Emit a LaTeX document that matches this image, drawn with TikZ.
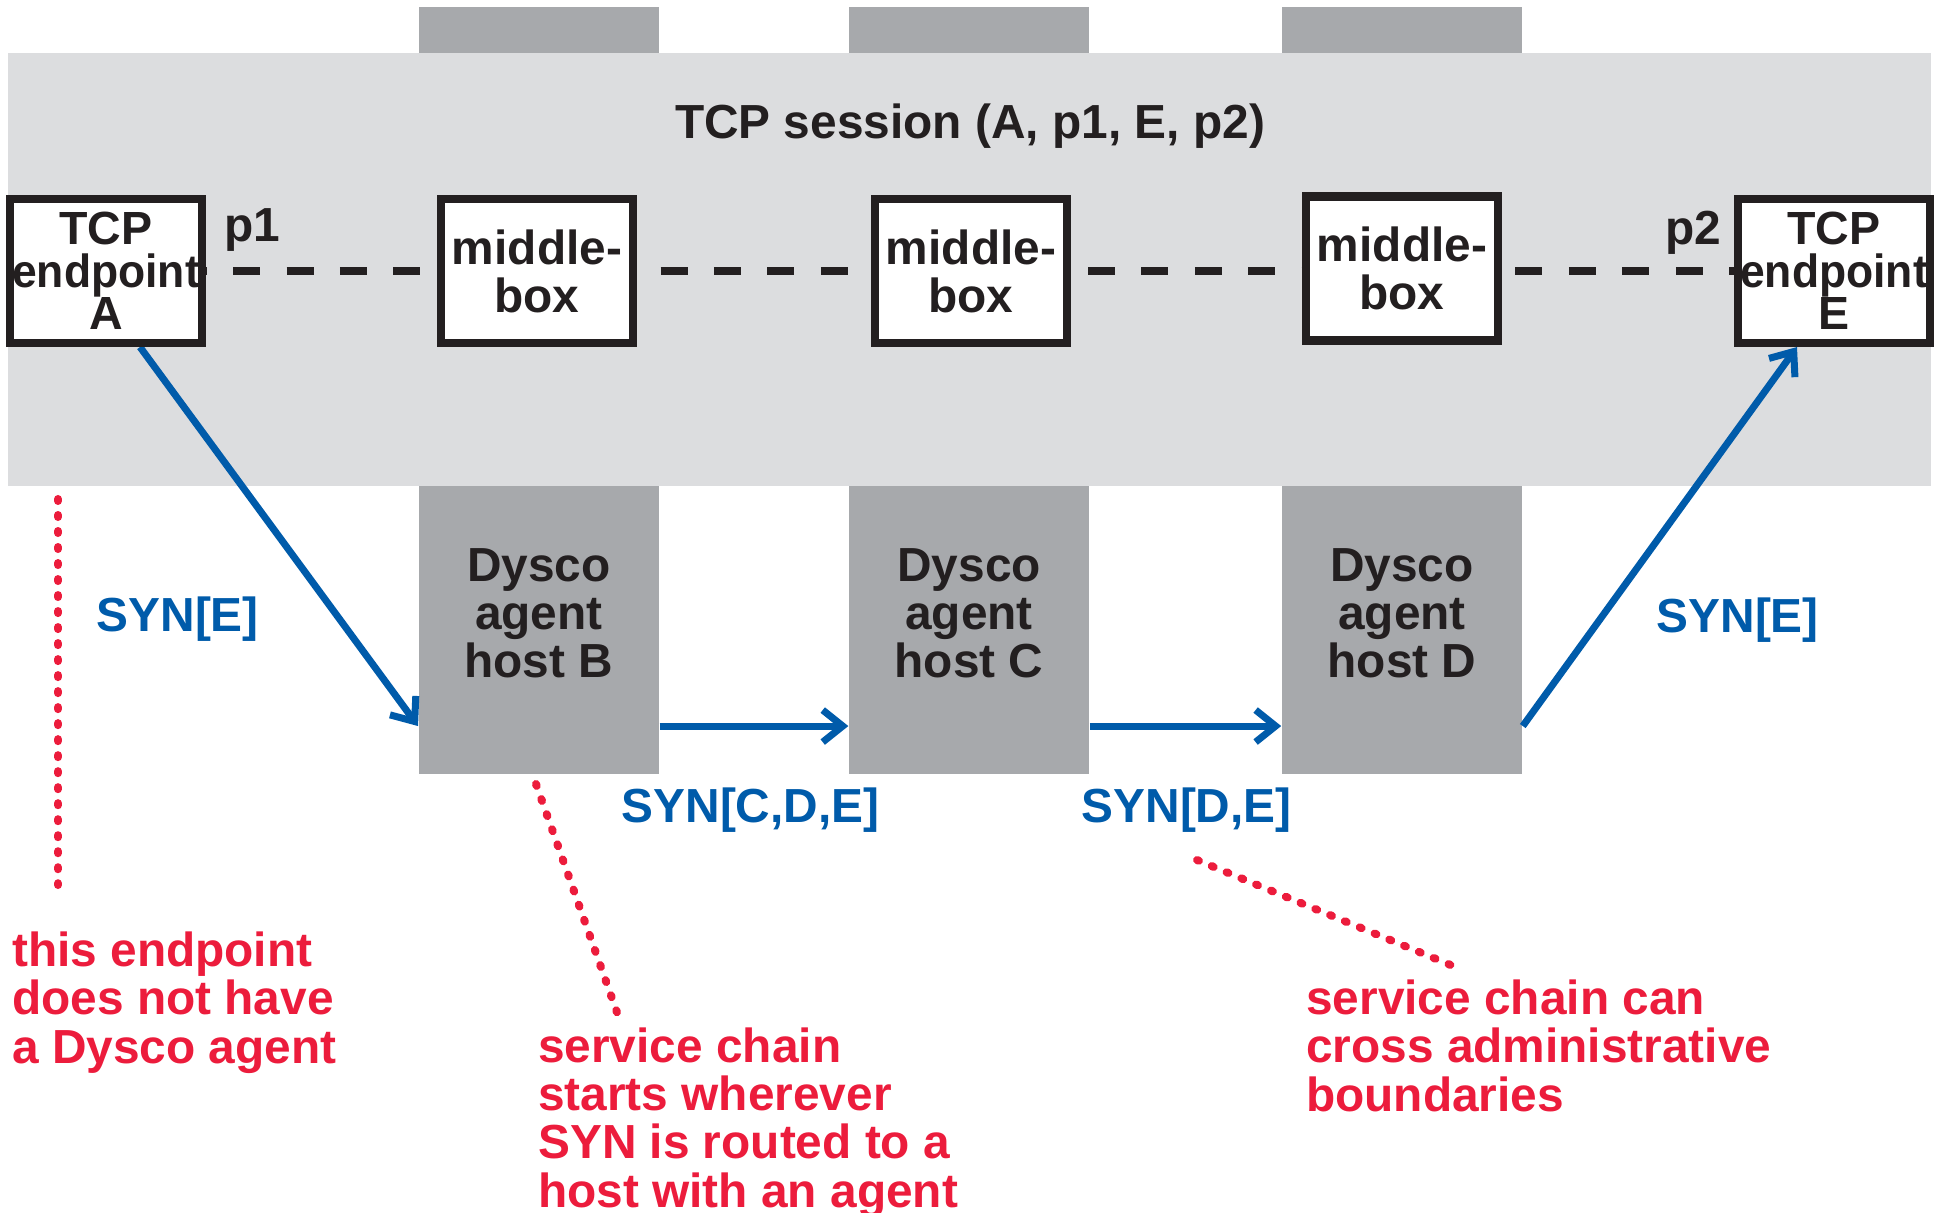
\documentclass[tikz,border=0pt]{standalone}
\usepackage{fontspec}
\setmainfont{Liberation Sans}
\usetikzlibrary{arrows.meta}

\definecolor{bandgray}{HTML}{DCDDDF}
\definecolor{hostgray}{HTML}{A7A9AC}
\definecolor{ink}{HTML}{231F20}
\definecolor{synblue}{HTML}{005BAA}
\definecolor{notered}{HTML}{EC1C3C}

\pgfdeclarelayer{back}
\pgfdeclarelayer{links}
\pgfsetlayers{back,links,main}

\newcommand\labelfont{\fontsize{13.6pt}{13.66pt}\selectfont\bfseries}
\newcommand\tcpfont{\fontsize{13.23pt}{12.09pt}\selectfont\bfseries}
\newcommand\narrow[1]{\scalebox{0.955}[1]{#1}}

\tikzset{
  hostcol/.style={fill=hostgray, draw=none, inner sep=0pt, minimum width=2.4cm},
  band/.style={fill=bandgray, draw=none, inner sep=0pt},
  boxnode/.style={draw=ink, line width=0.083cm, fill=white, text=ink,
    minimum width=1.917cm, minimum height=1.437cm, inner sep=0pt, align=center},
  hosttext/.style={text=ink, font=\labelfont, align=center, inner sep=0pt, anchor=south},
  plainlabel/.style={text=ink, font=\labelfont, inner sep=0pt, anchor=base west},
  synlabel/.style={text=synblue, font=\labelfont, inner sep=0pt, anchor=base west},
  notelabel/.style={text=notered, font=\labelfont, inner sep=0pt, anchor=base west, align=left},
  session/.style={draw=ink, line width=0.083cm, dash pattern=on 0.27cm off 0.264cm, dash phase=0.332cm},
  synarrow/.style={draw=synblue, line width=0.07cm, -{Straight Barb[length=0.2cm, width=0.32cm]}},
  leader/.style={draw=notered, line width=0.08cm, line cap=round, dash pattern=on 0.02cm off 0.14cm},
}

\begin{document}
\begin{tikzpicture}[x=0.01cm, y=-0.01cm]
\useasboundingbox (0,0) rectangle (1942,1213);

% host columns and the session band behind everything
\begin{pgfonlayer}{back}
  \node[hostcol, minimum height=0.53cm] (tabB) at (538.8,33.5) {};
  \node[hostcol, minimum height=0.53cm] (tabC) at (969.1,33.5) {};
  \node[hostcol, minimum height=0.53cm] (tabD) at (1402,33.5) {};
  \node[hostcol, minimum height=2.88cm] (hostB) at (538.8,630) {};
  \node[hostcol, minimum height=2.88cm] (hostC) at (969.1,630) {};
  \node[hostcol, minimum height=2.88cm] (hostD) at (1402,630) {};
  \node[band, minimum width=19.213cm, minimum height=4.327cm] (sessionband) at (969.35,269.65) {};
\end{pgfonlayer}

\node[plainlabel, anchor=base] (title) at (970,138.3) {TCP session (A, p1, E, p2)};

% endpoints and middleboxes
\node[boxnode, font=\tcpfont] (A) at (106,271) {TCP\\\narrow{endpoint}\\A};
\node[boxnode, font=\labelfont] (M1) at (537,271) {middle-\\box};
\node[boxnode, font=\labelfont] (M2) at (971,271) {middle-\\box};
\node[boxnode, font=\labelfont] (M3) at (1402,268.5) {middle-\\box};
\node[boxnode, font=\tcpfont] (E) at (1834,271) {TCP\\\narrow{endpoint}\\E};

\node[plainlabel] (p1) at (224,242) {p1};
\node[plainlabel] (p2) at (1665,245) {p2};

% agent hosts
\node[hosttext] (tB) at (538.8,679) {Dysco\\agent\\host B};
\node[hosttext] (tC) at (969.1,679) {Dysco\\agent\\host C};
\node[hosttext] (tD) at (1402,679) {Dysco\\agent\\host D};

% session path and SYN forwarding
\begin{pgfonlayer}{links}
  \draw[session] (A.center) -- (E.center);
  \draw[synarrow] ([xshift=0.34cm]A.south) -- ([yshift=-0.96cm]hostB.west);
  \draw[synarrow] ([yshift=-0.96cm]hostB.east) -- ([yshift=-0.96cm]hostC.west);
  \draw[synarrow] ([yshift=-0.96cm]hostC.east) -- ([yshift=-0.96cm]hostD.west);
  \draw[synarrow] ([yshift=-0.96cm]hostD.east) -- ([xshift=-0.37cm]E.south);
\end{pgfonlayer}

\node[synlabel] (synA) at (96,631.7) {SYN[E]};
\node[synlabel] (synB) at (621,823) {SYN[C,D,E]};
\node[synlabel] (synC) at (1081,823) {SYN[D,E]};
\node[synlabel] (synD) at (1656,632.5) {SYN[E]};

% annotations (base anchor sits on the last line of each note)
\coordinate (la1) at (58,499);
\coordinate (la2) at (58,885);
\coordinate (lb1) at (536,784);
\coordinate (lb2) at (619,1018);
\coordinate (lc1) at (1197,860);
\coordinate (lc2) at (1453,966);
\draw[leader] (la1) -- (la2);
\draw[leader] (lb1) -- (lb2);
\draw[leader] (lc1) -- (lc2);

\node[notelabel] (noteA) at (11.5,1063) {this endpoint\\does not have\\a Dysco agent};
\node[notelabel] (noteB) at (537.5,1207) {service chain\\starts wherever\\SYN is routed to a\\host with an agent};
\node[notelabel] (noteC) at (1305.5,1111) {service chain can\\cross administrative\\boundaries};
\end{tikzpicture}
\end{document}
